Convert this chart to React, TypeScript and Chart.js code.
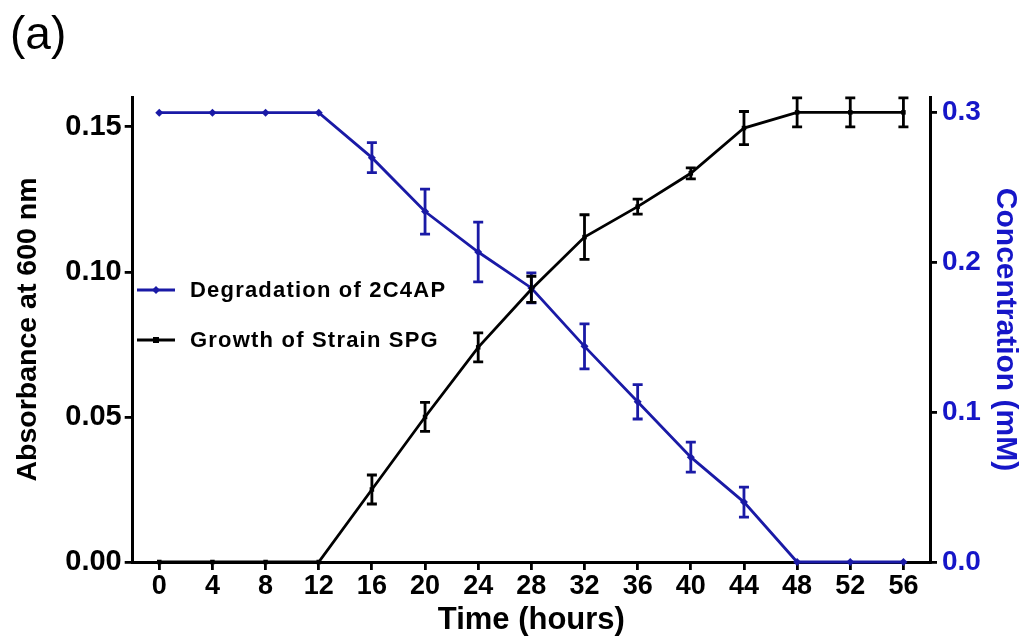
import React, { useEffect, useRef } from 'react';
import { Chart, registerables } from 'chart.js';
Chart.register(...registerables);

const hours = [0, 4, 8, 12, 16, 20, 24, 28, 32, 36, 40, 44, 48, 52, 56];
const concentration = [0.3, 0.3, 0.3, 0.3, 0.27, 0.234, 0.207, 0.183, 0.144, 0.107, 0.07, 0.04, 0, 0, 0];
const concentrationErr = [0, 0, 0, 0, 0.01, 0.015, 0.02, 0.01, 0.015, 0.0115, 0.01, 0.01, 0, 0, 0];
const absorbance = [0, 0, 0, 0, 0.025, 0.05, 0.074, 0.094, 0.112, 0.1225, 0.134, 0.1496, 0.155, 0.155, 0.155];
const absorbanceErr = [0, 0, 0, 0, 0.005, 0.005, 0.005, 0.0045, 0.0077, 0.0026, 0.0019, 0.0057, 0.005, 0.005, 0.005];
const xTicks = [0, 4, 8, 12, 16, 20, 24, 28, 32, 36, 40, 44, 48, 52, 56];
const leftTicks = [0, 0.05, 0.1, 0.15];
const rightTicks = [0, 0.1, 0.2, 0.3];
const seriesNames = ['Degradation of 2C4AP', 'Growth of Strain SPG'];

const FONT = "'Liberation Sans', Arial, sans-serif";
const BLUE = '#1a1aa6';
const BLUE_TEXT = '#1616c8';

const errorBarPlugin = {
  id: 'errorBars',
  afterDatasetsDraw(chart: any) {
    const ctx = chart.ctx;
    const xs = chart.scales.x;
    chart.data.datasets.forEach((ds: any) => {
      const ys = chart.scales[ds.yAxisID];
      const errs = ds.errors as number[];
      if (!errs) return;
      ctx.save();
      ctx.strokeStyle = ds.borderColor;
      ctx.lineWidth = 2.8;
      ds.data.forEach((p: any, i: number) => {
        const e = errs[i];
        if (!e) return;
        const x = xs.getPixelForValue(p.x);
        const yt = ys.getPixelForValue(p.y + e);
        const yb = ys.getPixelForValue(p.y - e);
        ctx.beginPath();
        ctx.moveTo(x, yt);
        ctx.lineTo(x, yb);
        ctx.moveTo(x - 5, yt);
        ctx.lineTo(x + 5, yt);
        ctx.moveTo(x - 5, yb);
        ctx.lineTo(x + 5, yb);
        ctx.stroke();
      });
      ctx.restore();
    });
  },
};

const decorPlugin = {
  id: 'decor',
  afterDraw(chart: any) {
    const ctx = chart.ctx;
    ctx.save();
    ctx.fillStyle = '#000';
    ctx.font = `46px ${FONT}`;
    ctx.textBaseline = 'middle';
    ctx.textAlign = 'left';
    ctx.fillText('(a)', 10, 36);

    const items = [
      { y: 290, color: BLUE, style: 'diamond', text: seriesNames[0] },
      { y: 340, color: '#000', style: 'square', text: seriesNames[1] },
    ];
    items.forEach((it) => {
      ctx.strokeStyle = it.color;
      ctx.fillStyle = it.color;
      ctx.lineWidth = 2.8;
      ctx.beginPath();
      ctx.moveTo(137, it.y);
      ctx.lineTo(175, it.y);
      ctx.stroke();
      ctx.beginPath();
      if (it.style === 'diamond') {
        ctx.moveTo(156, it.y - 4);
        ctx.lineTo(160, it.y);
        ctx.lineTo(156, it.y + 4);
        ctx.lineTo(152, it.y);
        ctx.closePath();
      } else {
        ctx.rect(153, it.y - 3, 6, 6);
      }
      ctx.fill();
      ctx.fillStyle = '#000';
      ctx.font = `bold 22px ${FONT}`;
      (ctx as any).letterSpacing = '1.2px';
      ctx.textBaseline = 'middle';
      ctx.fillText(it.text, 190, it.y + 1);
      (ctx as any).letterSpacing = '0px';
    });
    ctx.restore();
  },
};

export default function App() {
  const ref = useRef<HTMLCanvasElement | null>(null);
  useEffect(() => {
    if (!ref.current) return;
    const chart = new Chart(ref.current, {
      type: 'line',
      data: {
        datasets: [
          {
            label: seriesNames[0],
            data: hours.map((h, i) => ({ x: h, y: concentration[i] })),
            errors: concentrationErr,
            yAxisID: 'y1',
            borderColor: BLUE,
            backgroundColor: BLUE,
            borderWidth: 2.8,
            pointStyle: 'rectRot',
            pointRadius: 4,
            pointBorderWidth: 0,
            tension: 0,
            clip: false,
            order: 1,
          } as any,
          {
            label: seriesNames[1],
            data: hours.map((h, i) => ({ x: h, y: absorbance[i] })),
            errors: absorbanceErr,
            yAxisID: 'y',
            borderColor: '#000',
            backgroundColor: '#000',
            borderWidth: 2.8,
            pointStyle: 'rect',
            pointRadius: 3.2,
            pointBorderWidth: 0,
            tension: 0,
            clip: false,
            order: 0,
          } as any,
        ],
      },
      options: {
        animation: false,
        responsive: false,
        layout: { padding: { top: 97, left: 0, right: 0, bottom: 0 } },
        plugins: {
          legend: { display: false },
          tooltip: { enabled: false },
        },
        scales: {
          x: {
            type: 'linear',
            min: -2,
            max: 58,
            afterBuildTicks: (s: any) => {
              s.ticks = xTicks.map((v) => ({ value: v }));
            },
            afterFit: (s: any) => {
              s.height = 76;
            },
            grid: { drawOnChartArea: false, color: '#000', lineWidth: 2.8, tickLength: 8 },
            border: { display: true, color: '#000', width: 3 },
            ticks: {
              color: '#000',
              font: { family: FONT, size: 27, weight: 'bold' },
              padding: 0,
              maxRotation: 0,
              autoSkip: false,
            },
            title: {
              display: true,
              text: 'Time (hours)',
              color: '#000',
              font: { family: FONT, size: 31, weight: 'bold' },
              padding: { top: 0, bottom: -1 },
            },
          },
          y: {
            type: 'linear',
            position: 'left',
            min: 0,
            max: 0.1603,
            afterBuildTicks: (s: any) => {
              s.ticks = leftTicks.map((v) => ({ value: v }));
            },
            afterFit: (s: any) => {
              s.width = 132.7;
            },
            grid: { drawOnChartArea: false, color: '#000', lineWidth: 2.8, tickLength: 8 },
            border: { display: true, color: '#000', width: 3 },
            ticks: {
              color: '#000',
              font: { family: FONT, size: 29, weight: 'bold' },
              padding: 3,
              callback: (v: any) => Number(v).toFixed(2),
            },
            title: {
              display: true,
              text: 'Absorbance at 600 nm',
              color: '#000',
              font: { family: FONT, size: 28.5, weight: 'bold' },
              padding: { top: 11, bottom: 0 },
            },
          },
          y1: {
            type: 'linear',
            position: 'right',
            min: 0,
            max: 0.3105,
            afterBuildTicks: (s: any) => {
              s.ticks = rightTicks.map((v) => ({ value: v }));
            },
            afterFit: (s: any) => {
              s.width = 93;
            },
            grid: { drawOnChartArea: false, color: '#000', lineWidth: 2.8, tickLength: 7 },
            border: { display: true, color: '#000', width: 3 },
            ticks: {
              color: BLUE_TEXT,
              font: { family: FONT, size: 28, weight: 'bold' },
              padding: 5,
              callback: (v: any) => Number(v).toFixed(1),
            },
            title: {
              display: true,
              text: 'Concentration (mM)',
              color: BLUE_TEXT,
              font: { family: FONT, size: 30, weight: 'bold' },
              padding: { top: 0, bottom: 0 },
            },
          },
        },
      } as any,
      plugins: [errorBarPlugin, decorPlugin],
    });
    return () => chart.destroy();
  }, []);
  return (
    <div style={{ position: 'fixed', left: 0, top: 0, width: 1023, height: 638, background: '#fff' }}>
      <canvas ref={ref} width={1023} height={638} style={{ width: 1023, height: 638, display: 'block' }} />
    </div>
  );
}
